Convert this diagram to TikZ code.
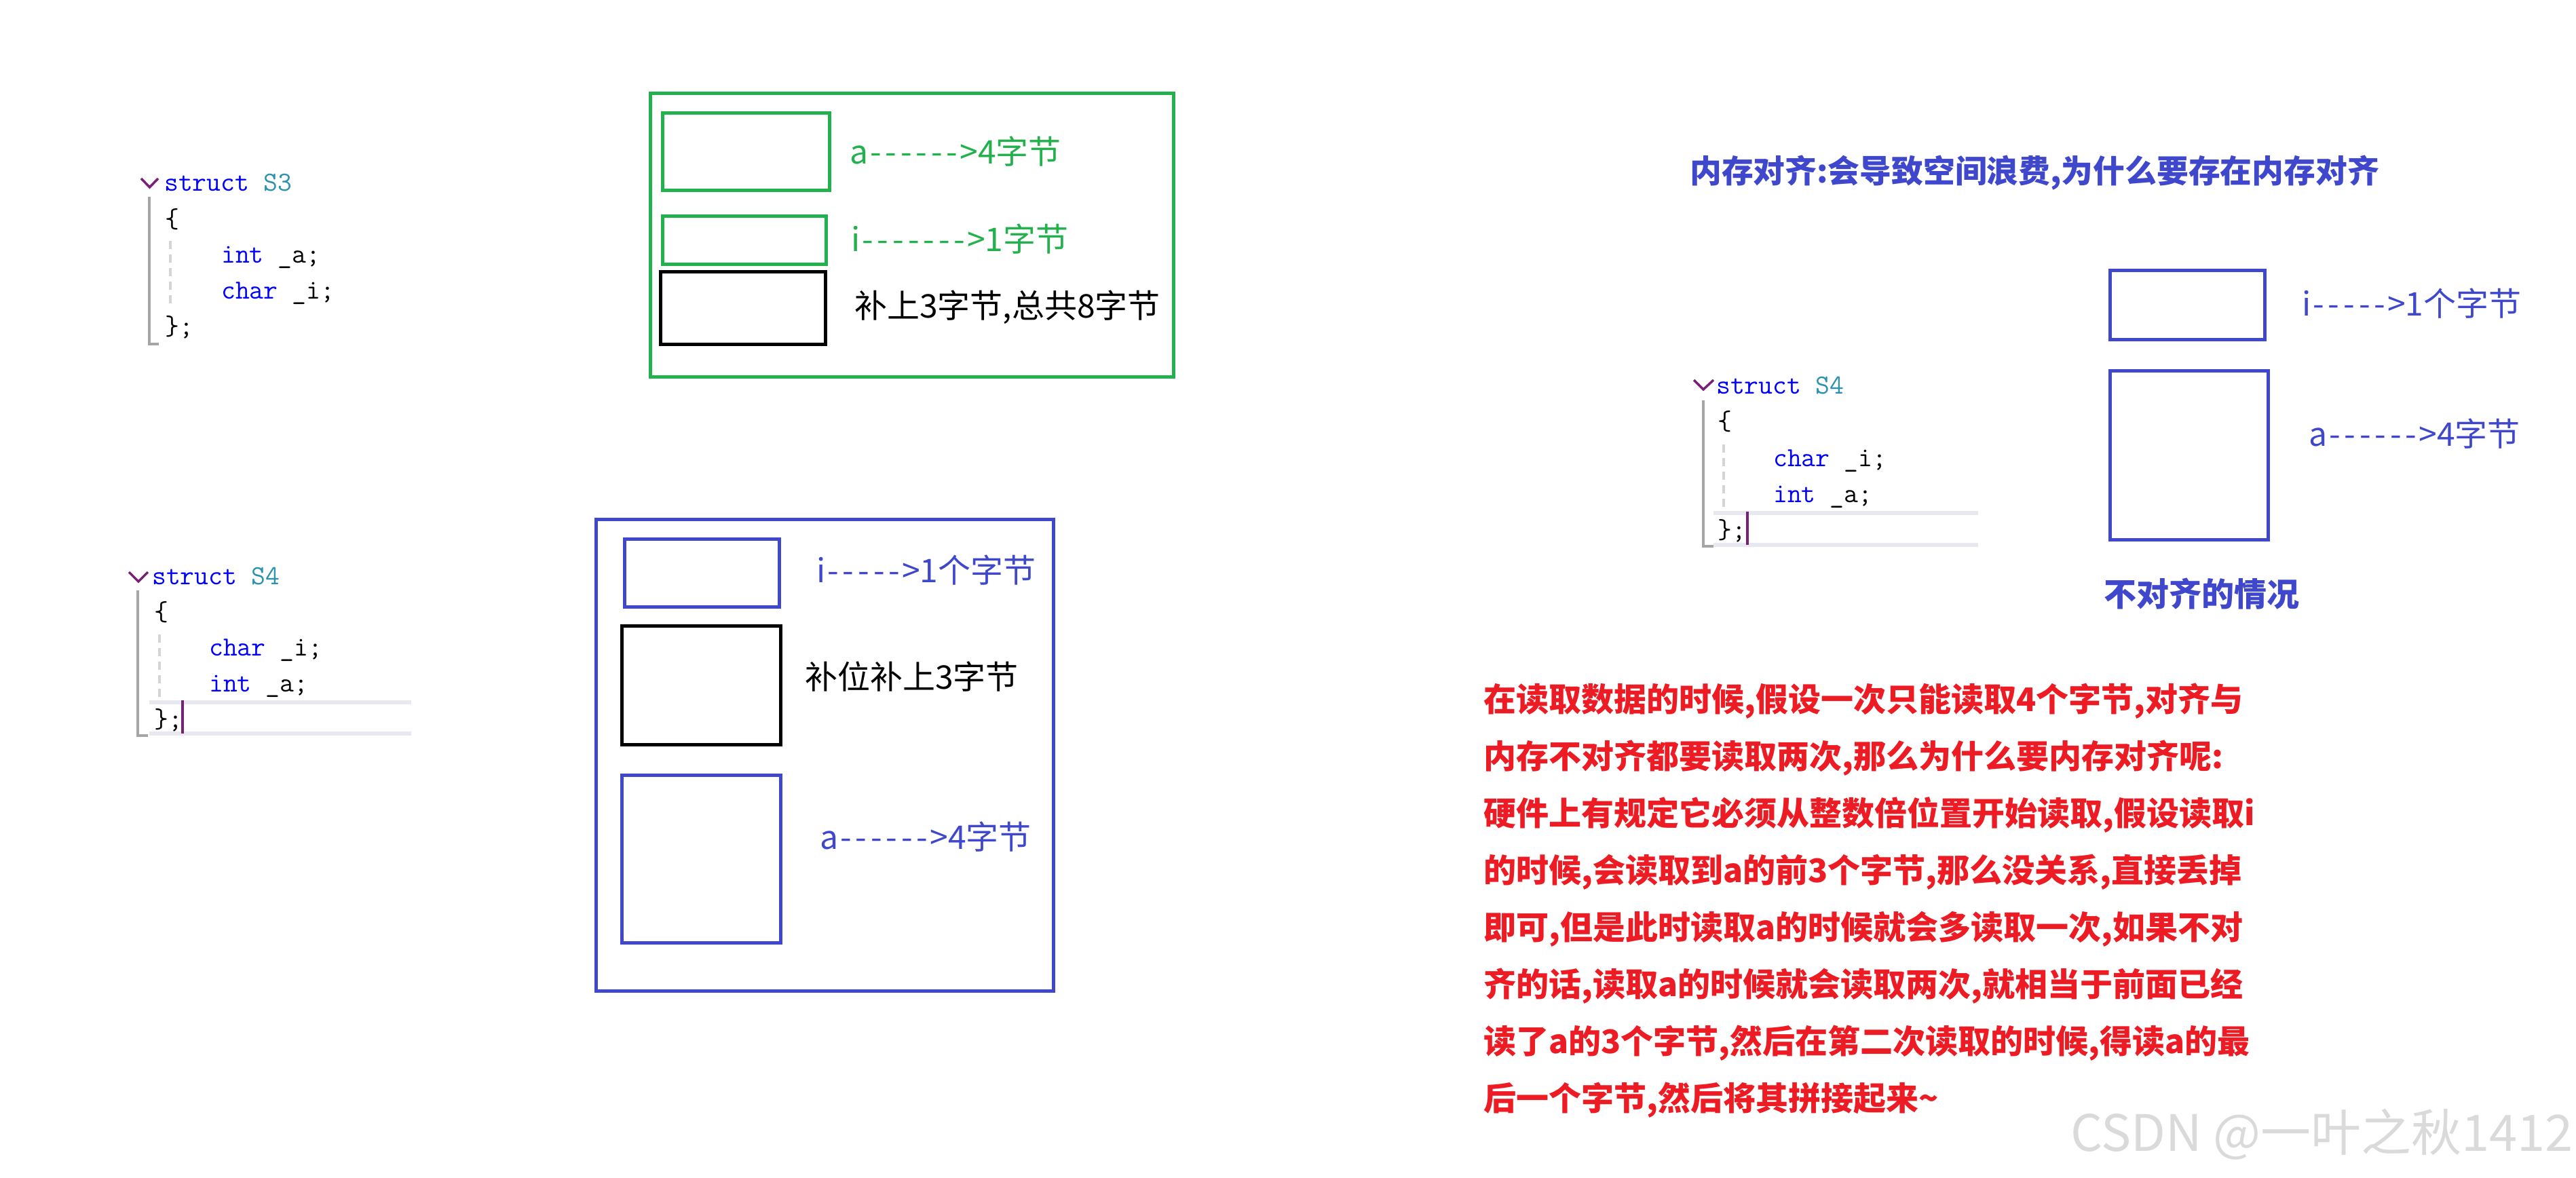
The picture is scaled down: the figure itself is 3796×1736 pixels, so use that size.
\documentclass[tikz,border=0pt]{standalone}
\usepackage{fontspec}
\setmainfont{Noto Sans CJK SC}
\definecolor{pgreen}{RGB}{34,177,76}
\definecolor{pblue}{RGB}{63,72,204}
\definecolor{pred}{RGB}{237,28,36}
\definecolor{kw}{RGB}{0,0,255}
\definecolor{ty}{RGB}{43,145,175}
\definecolor{chevc}{RGB}{122,30,122}
\definecolor{barc}{RGB}{165,165,165}
\definecolor{guidec}{RGB}{212,212,212}
\definecolor{hlc}{RGB}{232,232,240}
\definecolor{wmc}{RGB}{218,218,218}
\newcommand\hy{\makebox[0.47em][c]{-}}
\begin{document}
\begin{tikzpicture}[x=1pt,y=-1pt,
  box/.style={draw, line width=5pt, inner sep=0pt, outer sep=0pt},
  gbox/.style={box, draw=pgreen},
  bbox/.style={box, draw=pblue},
  kbox/.style={box, draw=black},
  lbl/.style={anchor=west, inner sep=0pt, font=\fontsize{48}{58}\selectfont},
  blbl/.style={anchor=west, inner sep=0pt, font=\fontsize{48}{58}\selectfont\bfseries},
  code/.style={anchor=base west, inner sep=0pt, font=\fontsize{40.5}{48}\selectfont\ttfamily},
  chev/.style={draw=chevc, line width=3.5pt, line join=miter},
  gbar/.style={draw=barc, line width=4pt},
  guide/.style={draw=guidec, line width=3.5pt, dash pattern=on 12pt off 8pt},
  hl/.style={fill=hlc, draw=none},
  cursor/.style={draw=chevc, line width=3.5pt}
]
\fill[white] (0,0) rectangle (3796,1736);
\useasboundingbox (0,0) rectangle (3796,1736);

% ---------- code S3 (top left) ----------
\draw[chev] (208,263) -- (220.5,276) -- (233,263);
\draw[gbar] (220,290) -- (220,507) -- (234,507);
\draw[guide] (251,355) -- (251,453);
\node[code] (s3a) at (242,282) {\textcolor{kw}{struct} \textcolor{ty}{S3}};
\node[code] (s3b) at (243,335) {\{};
\node[code] (s3c) at (326,387) {\textcolor{kw}{int} \_a;};
\node[code] (s3d) at (326,440) {\textcolor{kw}{char} \_i;};
\node[code] (s3e) at (243,493) {\};};

% ---------- code S4 (bottom left) ----------
\fill[hl] (220,1032) rectangle (606,1038);
\fill[hl] (220,1078) rectangle (606,1084);
\draw[chev] (190,843) -- (204,857) -- (218,843);
\draw[gbar] (203,870) -- (203,1084) -- (218,1084);
\draw[guide] (235,935) -- (235,1033);
\node[code] (s4a) at (224,861) {\textcolor{kw}{struct} \textcolor{ty}{S4}};
\node[code] (s4b) at (227,914) {\{};
\node[code] (s4c) at (308,966) {\textcolor{kw}{char} \_i;};
\node[code] (s4d) at (308,1019) {\textcolor{kw}{int} \_a;};
\node[code] (s4e) at (227,1072) {\};};
\draw[cursor] (269,1032) -- (269,1081);

% ---------- code S4 (right) ----------
\fill[hl] (2525,753) rectangle (2915,759);
\fill[hl] (2525,800) rectangle (2915,806);
\draw[chev] (2496,560) -- (2510,574) -- (2525,560);
\draw[gbar] (2510,590) -- (2510,805) -- (2525,805);
\draw[guide] (2540,655) -- (2540,750);
\node[code] (r4a) at (2529,580) {\textcolor{kw}{struct} \textcolor{ty}{S4}};
\node[code] (r4b) at (2531,633) {\{};
\node[code] (r4c) at (2613,687) {\textcolor{kw}{char} \_i;};
\node[code] (r4d) at (2613,740) {\textcolor{kw}{int} \_a;};
\node[code] (r4e) at (2531,793) {\};};
\draw[cursor] (2575,754) -- (2575,803);

% ---------- green layout ----------
\node[gbox, minimum width=771pt, minimum height=417pt] (gouter) at (1343.5,346.5) {};
\node[gbox, minimum width=246pt, minimum height=114pt] (ga) at (1099,224) {};
\node[gbox, minimum width=241pt, minimum height=70pt] (gi) at (1096.5,354) {};
\node[kbox, minimum width=243pt, minimum height=107pt] (gpad) at (1094.5,453.5) {};
\node[lbl, text=pgreen] (gat) at (1252,223) {a\hy\hy\hy\hy\hy\hy>4字节};
\node[lbl, text=pgreen] (git) at (1254,352) {i\hy\hy\hy\hy\hy\hy\hy>1字节};
\node[lbl, text=black] (gpt) at (1259,453) {补上3字节,总共8字节};

% ---------- blue layout ----------
\node[bbox, minimum width=674pt, minimum height=695pt] (bouter) at (1215,1112.5) {};
\node[bbox, minimum width=228pt, minimum height=100pt] (bi) at (1034,844) {};
\node[kbox, minimum width=234pt, minimum height=175pt] (bpad) at (1033,1009.5) {};
\node[bbox, minimum width=234pt, minimum height=247pt] (ba) at (1033,1265.5) {};
\node[lbl, text=pblue] (bit) at (1203,840) {i\hy\hy\hy\hy\hy>1个字节};
\node[lbl, text=black] (bpt) at (1186,997) {补位补上3字节};
\node[lbl, text=pblue] (bat) at (1208,1233) {a\hy\hy\hy\hy\hy\hy>4字节};

% ---------- right side ----------
\node[anchor=west, inner sep=0pt, font=\fontsize{46.8}{56}\selectfont\bfseries, text=pblue] (title) at (2490,255) {内存对齐:会导致空间浪费,为什么要存在内存对齐};
\node[bbox, minimum width=228pt, minimum height=102pt] (ri) at (3223,449) {};
\node[bbox, minimum width=233pt, minimum height=249pt] (ra) at (3225.5,670.5) {};
\node[lbl, text=pblue] (rit) at (3392,447) {i\hy\hy\hy\hy\hy>1个字节};
\node[lbl, text=pblue] (rat) at (3402,639) {a\hy\hy\hy\hy\hy\hy>4字节};
\node[blbl, text=pblue] (cap) at (3100,875) {不对齐的情况};

% ---------- red explanation ----------
\node[blbl, text=pred] (t1) at (2186,1033) {在读取数据的时候,假设一次只能读取4个字节,对齐与};
\node[blbl, text=pred] (t2) at (2186,1117) {内存不对齐都要读取两次,那么为什么要内存对齐呢:};
\node[blbl, text=pred] (t3) at (2186,1201) {硬件上有规定它必须从整数倍位置开始读取,假设读取i};
\node[blbl, text=pred] (t4) at (2186,1285) {的时候,会读取到a的前3个字节,那么没关系,直接丢掉};
\node[blbl, text=pred] (t5) at (2186,1369) {即可,但是此时读取a的时候就会多读取一次,如果不对};
\node[blbl, text=pred] (t6) at (2186,1453) {齐的话,读取a的时候就会读取两次,就相当于前面已经};
\node[blbl, text=pred] (t7) at (2186,1537) {读了a的3个字节,然后在第二次读取的时候,得读a的最};
\node[blbl, text=pred] (t8) at (2186,1621) {后一个字节,然后将其拼接起来\textasciitilde};

% ---------- watermark ----------
\node[anchor=east, inner sep=0pt, text=wmc, font=\fontsize{74}{80}\selectfont] (wm) at (3792,1672) {CSDN @一叶之秋1412};
\end{tikzpicture}
\end{document}
